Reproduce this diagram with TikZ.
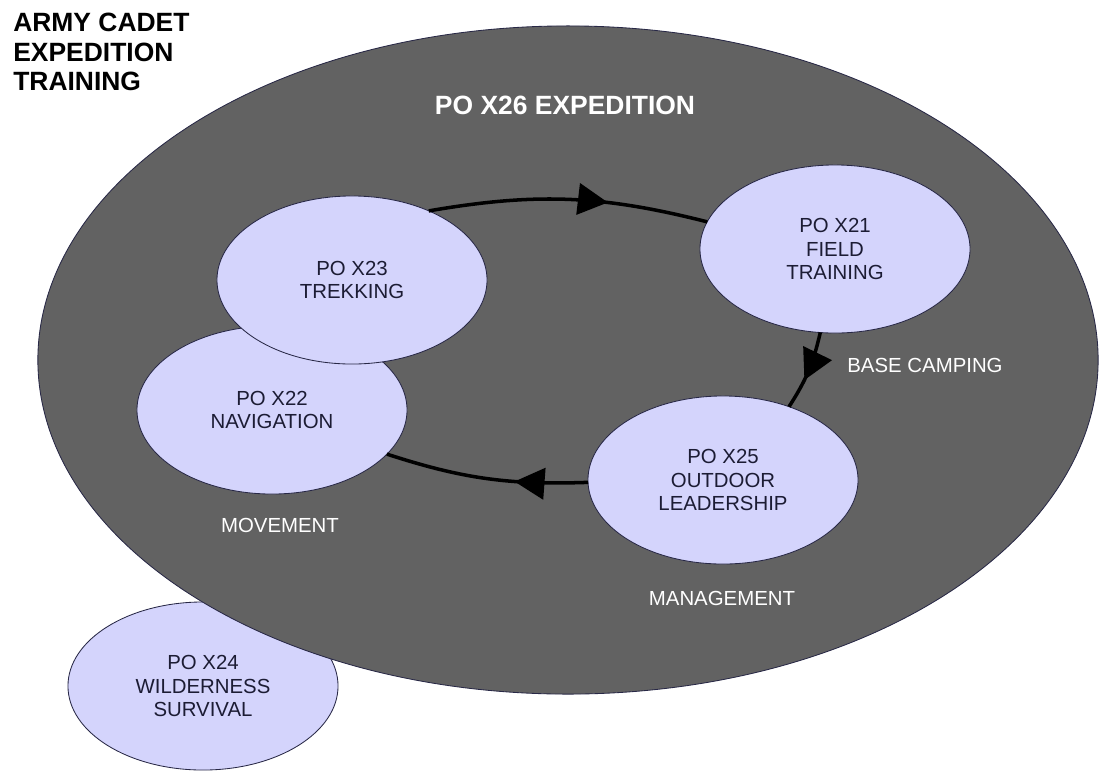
\documentclass[tikz,border=0pt]{standalone}
\usepackage{fontspec}
\setmainfont{Liberation Sans}
\usetikzlibrary{shapes.geometric,arrows.meta,decorations.markings}
\definecolor{bgdark}{RGB}{98,98,98}
\definecolor{polav}{RGB}{212,212,252}
\definecolor{poline}{RGB}{40,40,70}
\definecolor{potext}{RGB}{28,28,52}
\tikzset{
  midtip/.style={decoration={markings,
    mark=at position #1 with {\arrow{Triangle[length=0.75cm,width=0.78cm]}}}}
}

\begin{document}
\begin{tikzpicture}[x=0.025cm,y=-0.025cm,
  outerell/.style={ellipse,draw=poline,line width=0.6pt,fill=bgdark,
    minimum width=26.5cm,minimum height=16.7cm,inner sep=0pt,outer sep=0pt},
  ponode/.style={ellipse,draw=poline,line width=0.6pt,fill=polav,
    minimum width=6.75cm,minimum height=4.2cm,inner sep=0pt,outer sep=0pt,
    align=center,text=potext,font=\fontsize{14.5}{16.7}\selectfont},
  lbl/.style={text=white,inner sep=0pt,font=\fontsize{14.5}{16.7}\selectfont},
  heading/.style={inner sep=0pt,align=left,font=\fontsize{18.8}{20.9}\selectfont\bfseries},
  cyc/.style={draw=black,line width=2.5pt,postaction={decorate}}
]
\useasboundingbox (0,0) rectangle (1099,771);

\node[ponode] (survival) at (203,686) {PO X24\\WILDERNESS\\SURVIVAL};
\node[outerell] (expd) at (568,360) {};

\node[ponode] (nav) at (272,410) {PO X22\\NAVIGATION};
\node[ponode] (trek) at (352,280) {PO X23\\TREKKING};
\node[ponode] (field) at (835,249) {PO X21\\FIELD\\TRAINING};
\node[ponode] (lead) at (723,480) {PO X25\\OUTDOOR\\LEADERSHIP};

% Cycle
\draw[cyc,midtip=0.64] (trek.42) to[bend left=12] (field.168);
\draw[cyc,midtip=0.62] (field.260) to[bend left=10] (lead.48);
\draw[cyc,midtip=0.36] (lead.181) to[bend left=10] (nav.339);

% Labels
\node[heading,text=white] (exptitle) at (565,105) {PO X26 EXPEDITION};
\node[lbl] (basecamp) at (925,365) {BASE CAMPING};
\node[lbl] (movement) at (280,525) {MOVEMENT};
\node[lbl] (management) at (722,598) {MANAGEMENT};

% Title
\node[heading,anchor=north west] (maintitle) at (13,13) {ARMY CADET\\EXPEDITION\\TRAINING};

\end{tikzpicture}
\end{document}
